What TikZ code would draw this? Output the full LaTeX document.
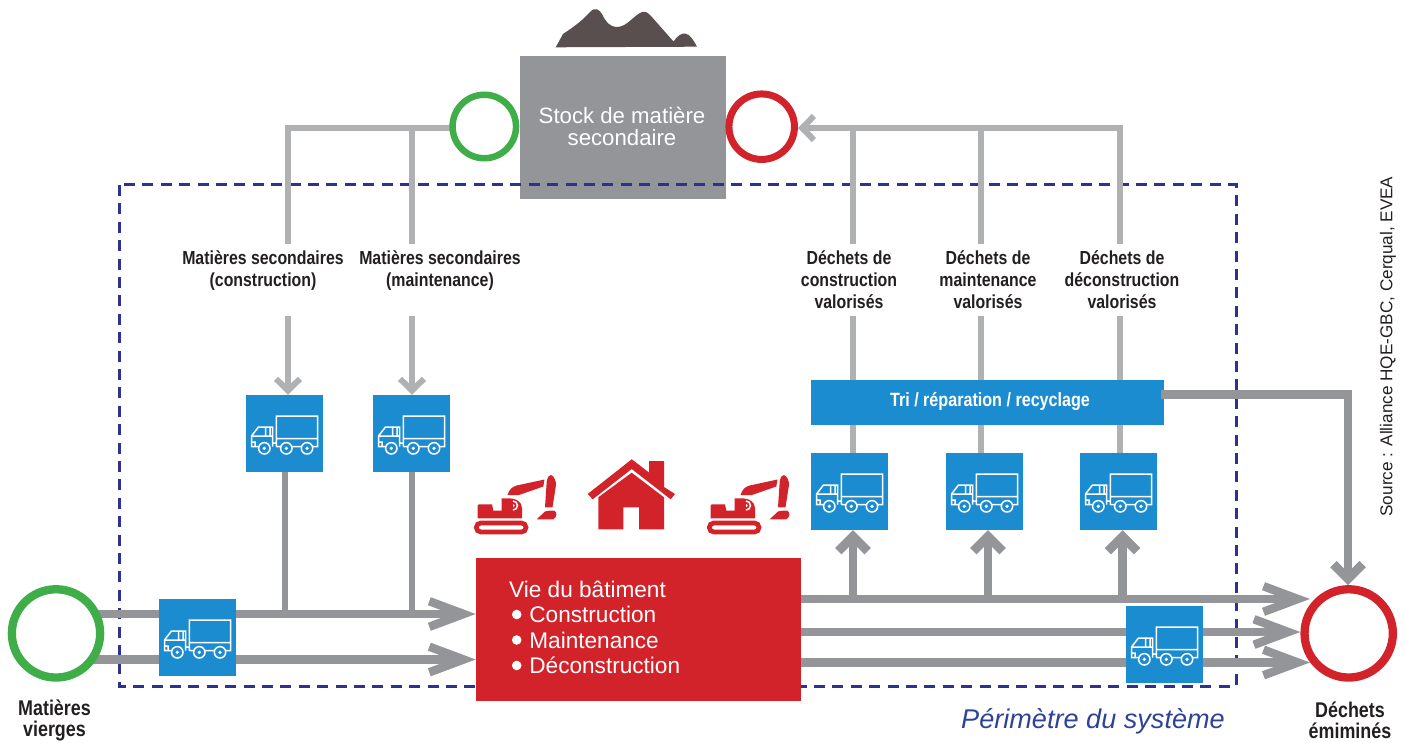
\documentclass[tikz,border=0pt]{standalone}
\usepackage{fontspec}
\setmainfont{Liberation Sans}
\newfontfamily\condfont[FakeStretch=0.84]{Liberation Sans}
\pgfdeclarelayer{front}
\pgfsetlayers{main,front}
\definecolor{cblue}{HTML}{1C8CD0}
\definecolor{cred}{HTML}{D2232A}
\definecolor{cgreen}{HTML}{3FAE49}
\definecolor{cgrey}{HTML}{939598}
\definecolor{clight}{HTML}{B0B1B3}
\definecolor{cdash}{HTML}{2E3192}
\definecolor{cmount}{HTML}{594F4F}
\definecolor{cper}{HTML}{2E4396}
\definecolor{ctxt}{HTML}{231F20}
\tikzset{
  heavy/.style={draw=cgrey,line width=8.4pt},
  hlong/.style={heavy,shorten >=16pt},
  vshort/.style={heavy,shorten >=10pt},
  thin link/.style={draw=clight,line width=5.6pt},
  thinshaft/.style={thin link,shorten >=7pt},
  branch/.style={draw=cgrey,line width=6pt},
  longhead/.pic={\draw[cgrey,line width=8.5pt,line join=miter] (-46.5,-12.8) -- (-12.2,0) -- (-46.5,12.8);},
  shorthead/.pic={\draw[cgrey,line width=9pt,line join=miter] (-21,-14.6) -- (-6.4,0) -- (-21,14.6);},
  thinhead/.pic={\draw[clight,line width=6pt,line join=miter] (-16,-12) -- (-4.2,0) -- (-16,12);},
  bluebox/.style={fill=cblue,draw=none,minimum width=77pt,minimum height=77pt,inner sep=0pt},
  ring/.style={circle,draw,fill=white,inner sep=0pt},
  lab/.style={align=center,font=\condfont\bfseries\fontsize{18.9}{22}\selectfont,text=ctxt,inner sep=0pt},
  biglab/.style={align=center,font=\condfont\bfseries\fontsize{21.3}{21.5}\selectfont,text=ctxt,inner sep=0pt},
  vietext/.style={anchor=base west,text=white,font=\fontsize{22.6}{25}\selectfont,inner sep=0pt},
  dotbullet/.style={circle,fill=white,minimum size=9.6pt,inner sep=0pt},
  truck/.pic={
    \draw[white,line width=1.5pt,line join=miter]
      (30.3,21) rectangle (71.7,43.7)
      (30.3,43.7) -- (30.3,51.5) (71.7,43.7) -- (71.7,51.5) -- (66,51.5) (56,51.5) -- (46,51.5) (35,51.5) -- (30.3,51.5)
      (26.6,51.7) -- (26.6,32) -- (12.5,32) -- (5.5,41) -- (5.5,51.7) -- (12,51.7)
      (5.5,41) -- (26.6,41) (19.5,32) -- (19.5,41) (24,32) -- (24,41)
      (5.5,47) -- (9,47) -- (9,51.7)
      (26.6,48) -- (30.3,48);
    \foreach \wx in {18.3,40.3,61}{
      \draw[white,line width=1.5pt,fill=cblue] (\wx,53.3) circle (5.7pt);
      \fill[white] (\wx,53.3) circle (1.8pt);
    }
  },
  digger/.pic={
    \draw[cred,line width=4.7pt,rounded corners=4.5pt] (16.3,83) rectangle (66,92);
    \fill[cred] (17.7,65.5) -- (18.7,64.3) -- (32,64.3) -- (33.3,70.7) -- (41.7,70.7) -- (41.7,58.3) -- (50,58.3)
       .. controls (56,58.5) and (62,62) .. (62,68) -- (62,78.3) -- (17.7,78.3) -- cycle;
    \draw[white,line width=1.5pt] (53,61) arc (90:-90:4.5pt);
    \fill[white] (53,63.8) arc (90:-90:1.8pt) -- cycle;
    \fill[cred] (47.5,55) .. controls (49.5,49) and (52,47) .. (56.7,45.5) -- (84.5,39.5) -- (83.3,46.5) -- (59,55) -- cycle;
    \fill[cred] (86.7,41.7) .. controls (87.5,37) and (89,35) .. (91,35) .. controls (94,36) and (96.2,41) .. (96,45) -- (92.5,67.3) -- (85,67.3) -- cycle;
    \fill[cred] (76.7,79.3) -- (85,71.5) .. controls (87,70.7) and (92,70.5) .. (94.3,70.7) .. controls (97,72) and (97.5,77) .. (93.3,79.3) -- cycle;
  },
}
\newcommand{\truckbox}[3]{%
  \node[bluebox] (#1) at (#2+38.5,#3+38.5) {};
  \pic at (#2,#3) {truck};
}
\begin{document}
\begin{tikzpicture}[x=1pt,y=-1pt]
\useasboundingbox (0,0) rectangle (1406,743);
% mountain
\fill[cmount] (555.7,47.3) -- (563,34) .. controls (575,26) and (583,20) .. (590,12) .. controls (595,7) and (599,9) .. (602,14)
  .. controls (606,22) and (609,26.5) .. (617,27) .. controls (627,27) and (634,15) .. (642,12) .. controls (646,11) and (648,13) .. (651,16)
  -- (673.5,41.5) .. controls (677,36) and (682,33) .. (685,33.5) .. controls (690,34) and (694,41) .. (697,46.7) -- cycle;
% stock
\node[fill=cgrey,minimum width=206pt,minimum height=143pt,inner sep=0pt] (stock) at (623,127.5) {};
\node[align=center,text=white,font=\fontsize{22.2}{22}\selectfont,inner sep=0pt] (stocklab) at (622,126) {Stock de matière\\secondaire};
% perimeter
\draw[cdash,line width=3pt,dash pattern=on 11pt off 7.4pt] (119,185) rectangle (1236,686);
% junctions and free ends
\coordinate (jl) at (288,128); \coordinate (jm) at (412,128);
\coordinate (jc) at (853,128); \coordinate (jn) at (981,128); \coordinate (jd) at (1120,128);
\coordinate (jeo) at (1348,394.5);
\coordinate (ja) at (285,614); \coordinate (jb) at (412,614);
\coordinate (uc) at (853,599); \coordinate (un) at (988,599); \coordinate (ud) at (1122.5,599);
\coordinate (gu) at (0,244.3); \coordinate (gd) at (0,316);
\coordinate (ta) at (1310,599); \coordinate (tc) at (1310,662.5);
\coordinate (lowin) at (0,659.5); \coordinate (midout) at (0,632);
% main nodes
\begin{pgfonlayer}{front}
\node[ring,draw=cgreen,line width=8.3pt,minimum size=88.3pt] (mv) at (56,633.4) {};
\node[ring,draw=cred,line width=8.3pt,minimum size=88.3pt] (de) at (1348.7,633.4) {};
\node[ring,draw=cgreen,line width=6.5pt,minimum size=63.5pt] (gtop) at (484.3,126.5) {};
\node[ring,draw=cred,line width=7pt,minimum size=65.5pt] (rtop) at (761.7,126.7) {};
\end{pgfonlayer}
\node[fill=cred,minimum width=325pt,minimum height=143pt,inner sep=0pt] (vie) at (638.5,629.5) {};
\node[fill=cblue,minimum width=353pt,minimum height=45pt,inner sep=0pt] (tri) at (987.5,402.5) {};
\node[text=white,font=\condfont\bfseries\fontsize{19.2}{20}\selectfont,inner sep=0pt] (trilab) at (990,401) {Tri / réparation / recyclage};
% labels
\node[lab] (lc) at (263,270.5) {Matières secondaires\\(construction)};
\node[lab] (lm) at (440,270.5) {Matières secondaires\\(maintenance)};
\node[lab] (dc) at (849,279.5) {Déchets de\\construction\\valorisés};
\node[lab] (dm) at (988,279.5) {Déchets de\\maintenance\\valorisés};
\node[lab] (dd) at (1122,279.5) {Déchets de\\déconstruction\\valorisés};
% top connectors
\draw[thin link] (gtop.center |- jl) -- (jl) -- (jl |- gu);
\draw[thin link] (jm) -- (jm |- gu);
\draw[thin link] (jc |- gu) -- (jc);
\draw[thin link] (jn |- gu) -- (jn);
\draw[thin link] (jd |- gu) -- ([yshift=-2.8pt]jd);
\draw[thinshaft] ([xshift=2.8pt]jd) -- (rtop.east |- jd);
\pic[rotate=180] at (rtop.east |- jd) {thinhead};
% trucks
\truckbox{t1}{246}{395}
\truckbox{t2}{373}{395}
\truckbox{t3}{811}{453}
\truckbox{t4}{946}{453}
\truckbox{t5}{1080}{453}
\draw[thinshaft] (jl |- gd) -- (jl |- t1.north);
\pic[rotate=-90] at (jl |- t1.north) {thinhead};
\draw[thinshaft] (jm |- gd) -- (jm |- t2.north);
\pic[rotate=-90] at (jm |- t2.north) {thinhead};
\draw[thin link] (jc |- gd) -- (jc |- tri.north);
\draw[thin link] (jn |- gd) -- (jn |- tri.north);
\draw[thin link] (jd |- gd) -- (jd |- tri.north);
\draw[thin link] (jc |- tri.south) -- (jc |- t3.north);
\draw[thin link] (jn |- tri.south) -- (jn |- t4.north);
\draw[thin link] (jd |- tri.south) -- (jd |- t5.north);
\draw[branch] (ja |- t1.south) -- (ja);
\draw[branch] (jb |- t2.south) -- (jb);
% heavy arrows
\draw[hlong] (mv.center |- ja) -- (ja -| vie.west);
\pic at (ja -| vie.west) {longhead};
\draw[hlong] (mv.center |- lowin) -- (vie.west |- lowin);
\pic at (vie.west |- lowin) {longhead};
\draw[hlong] (vie.east |- uc) -- (ta);
\pic at (ta) {longhead};
\draw[hlong] (vie.east |- midout) -- (de.west |- midout);
\pic at (de.west |- midout) {longhead};
\draw[hlong] (vie.east |- tc) -- (tc);
\pic at (tc) {longhead};
\draw[vshort] (uc) -- (uc |- t3.south);
\pic[rotate=90] at (uc |- t3.south) {shorthead};
\draw[vshort] (un) -- (un |- t4.south);
\pic[rotate=90] at (un |- t4.south) {shorthead};
\draw[vshort] (ud) -- (ud |- t5.south);
\pic[rotate=90] at (ud |- t5.south) {shorthead};
\draw[vshort] ([xshift=-3pt]tri.east |- jeo) -- (jeo) -- (jeo |- de.north);
\pic[rotate=-90] at (jeo |- de.north) {shorthead};
% boxes over arrows
\truckbox{t0}{159}{599}
\truckbox{t6}{1126}{606}
% red box text
\node[vietext] (v0) at (509,597.8) {Vie du bâtiment};
\node[dotbullet] (b1) at (516.7,614.5) {};
\node[vietext] (v1) at (529.2,622.8) {Construction};
\node[dotbullet] (b2) at (516.7,640) {};
\node[vietext] (v2) at (529.2,648.3) {Maintenance};
\node[dotbullet] (b3) at (516.7,665.5) {};
\node[vietext] (v3) at (529.2,673.8) {Déconstruction};
% house
\fill[cred] (631.7,459.3) -- (649,472.5) -- (649,461) -- (664,461) -- (664,487) -- (675,494) -- (670.7,499.3) -- (631.7,469) -- (592.7,499.3) -- (587.7,494) -- cycle;
\fill[cred] (631.7,472.7) -- (664,497.3) -- (664,529.3) -- (639,529.3) -- (639,507.3) -- (623.3,507.3) -- (623.3,529.3) -- (598.3,529.3) -- (598.3,497.3) -- cycle;
% diggers
\pic at (460,440) {digger};
\pic at (693,440) {digger};
% bottom labels
\node[biglab] (mvl) at (54.5,720.5) {Matières\\vierges};
\node[biglab] (del) at (1350,720.5) {Déchets\\émiminés};
\node[text=cper,font=\itshape\fontsize{27.1}{30}\selectfont,inner sep=0pt] (per) at (1093,721.5) {Périmètre du système};
\node[rotate=90,text=ctxt,font=\fontsize{17.15}{20}\selectfont,inner sep=0pt] (src) at (1388,346.5) {Source : Alliance HQE-GBC, Cerqual, EVEA};
\end{tikzpicture}
\end{document}
